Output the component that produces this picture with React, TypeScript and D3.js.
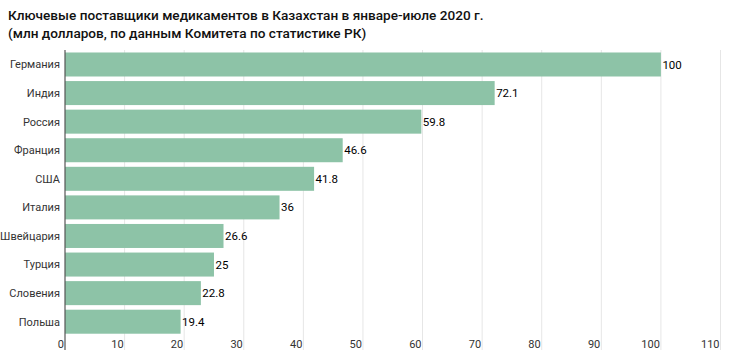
import React from "react";
import * as d3 from "d3";

const countries = ["Германия", "Индия", "Россия", "Франция", "США", "Италия", "Швейцария", "Турция", "Словения", "Польша"];
const values = [100, 72.1, 59.8, 46.6, 41.8, 36, 26.6, 25, 22.8, 19.4];
const ticks = [0, 10, 20, 30, 40, 50, 60, 70, 80, 90, 100, 110];

const W = 730;
const H = 362;
const font = "Roboto, 'Noto Sans', sans-serif";

export default function App() {
  const x = d3.scaleLinear().domain([0, 110]).range([65, 720.5]);
  const y = d3.scaleBand().domain(countries).range([50.2, 336]).paddingInner(0.16).paddingOuter(0.08);

  return (
    <svg width={W} height={H} style={{ position: "absolute", left: 0, top: 0, fontFamily: font }}>
      <rect width={W} height={H} fill="#fff" />
      <text x={8} y={19.5} fontSize={13.6} fontWeight={500} fill="#111">
        Ключевые поставщики медикаментов в Казахстан в январе-июле 2020 г.
      </text>
      <text x={8} y={37.5} fontSize={13.6} fontWeight={500} fill="#111">
        (млн долларов, по данным Комитета по статистике РК)
      </text>
      {ticks.map((t) => (
        <g key={t}>
          {t > 0 && <line x1={x(t)} x2={x(t)} y1={50} y2={350} stroke="#e6e6e6" strokeWidth={1} />}
          <text x={x(t) - 1} y={348} fontSize={11} textAnchor="end" fill="#333">
            {t}
          </text>
        </g>
      ))}
      {countries.map((c, i) => (
        <g key={c}>
          <rect x={x(0)} y={y(c)} width={x(values[i]) - x(0)} height={y.bandwidth()} fill="#8dc3a7" />
          <text x={60} y={y(c)! + y.bandwidth() / 2} dy="0.35em" fontSize={11} textAnchor="end" fill="#333">
            {c}
          </text>
          <text x={x(values[i]) + 1.5} y={y(c)! + y.bandwidth() / 2} dy="0.35em" fontSize={11.5} fill="#000">
            {values[i]}
          </text>
        </g>
      ))}
      <line x1={x(0)} x2={x(0)} y1={50} y2={350} stroke="#555" strokeWidth={1.2} />
    </svg>
  );
}
